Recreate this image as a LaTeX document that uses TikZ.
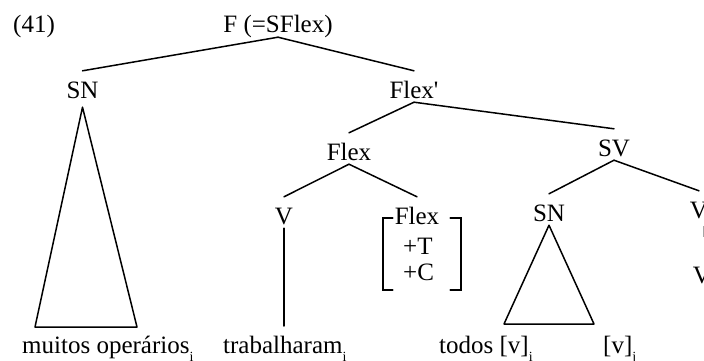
\documentclass[tikz,border=0pt]{standalone}
\usepackage{fontspec}
\setmainfont{Liberation Serif}
\newcommand\lsub[1]{\raisebox{-8pt}{\fontsize{14}{14}\selectfont #1}}
\newcommand\straightq{{\XeTeXglyph\XeTeXcharglyph"0027\relax}}
\begin{document}
\begin{tikzpicture}[x=1pt,y=-1pt,
  lab/.style={inner xsep=0pt, inner ysep=4pt, text height=23pt, text depth=0pt, anchor=base, font=\fontsize{25}{30}\selectfont},
  txt/.style={inner sep=0pt, anchor=base west, font=\fontsize{25}{30}\selectfont},
  edge/.style={line width=1.5pt, line cap=round},
  faint/.style={line width=1pt, black!35}]
\useasboundingbox (0,0) rectangle (704,361);
% labels
\node[txt] (num) at (13,33) {(41)};
\node[lab] (F) at (278,33) {F (=SFlex)};
\node[lab] (SN) at (82.5,98) {SN};
\node[lab] (Flexp) at (414,98) {Flex\straightq};
\node[lab] (Flex) at (349,160) {Flex};
\node[lab] (SV) at (614,156) {SV};
\node[lab] (V) at (284,224) {V};
\node[lab] (Flexl) at (417,224) {Flex};
\node[lab] (SNb) at (549,221) {SN};
\node[lab] (Vr) at (699,218) {V};
\node[lab] (Vr2) at (702,283) {V};
% feature matrix
\node[minimum width=78pt, minimum height=72pt, inner sep=0pt] (feat) at (422,254) {};
\node[txt] (T) at (403,254) {+T};
\node[txt] (C) at (403,280) {+C};
\draw[edge] ([xshift=10pt]feat.north west) -- (feat.north west) -- (feat.south west) -- ([xshift=10pt]feat.south west);
\draw[edge] ([xshift=-11pt]feat.north east) -- (feat.north east) -- (feat.south east) -- ([xshift=-11pt]feat.south east);
% words
\node[txt] (w1) at (22,353) {muitos operários\lsub{i}};
\node[txt] (w2) at (223,353) {trabalharam\lsub{i}};
\node[txt] (w3) at (439,353) {todos [v]\lsub{i}};
\node[txt] (w4) at (603,353) {[v]\lsub{j}};
% branches
\draw[edge] (F.south) -- (SN.north);
\draw[edge] (F.south) -- (Flexp.north);
\draw[edge] (Flexp.south) -- (Flex.north);
\draw[edge] (Flexp.south) -- (SV.north);
\draw[edge] (Flex.south) -- (V.north);
\draw[edge] (Flex.south) -- (Flexl.north);
\draw[edge] (SV.south) -- (SNb.north);
\draw[edge] (SV.south) -- (Vr.north);
\coordinate (Vend) at (284,326);
\draw[edge] (V.south) -- (Vend);
% triangles
\coordinate (t1l) at (35,327);
\coordinate (t1r) at (137,327);
\draw[edge, line join=round] ([yshift=-5pt]SN.south) -- (t1l) -- (t1r) -- cycle;
\coordinate (t2l) at (504,324);
\coordinate (t2r) at (594,324);
\draw[edge, line join=round] (SNb.south) -- (t2l) -- (t2r) -- cycle;
% faint tick under right V
\coordinate (tk1) at (703,226);
\coordinate (tk2) at (703,237);
\draw[faint] (tk1) -- (tk2);
\end{tikzpicture}
\end{document}
